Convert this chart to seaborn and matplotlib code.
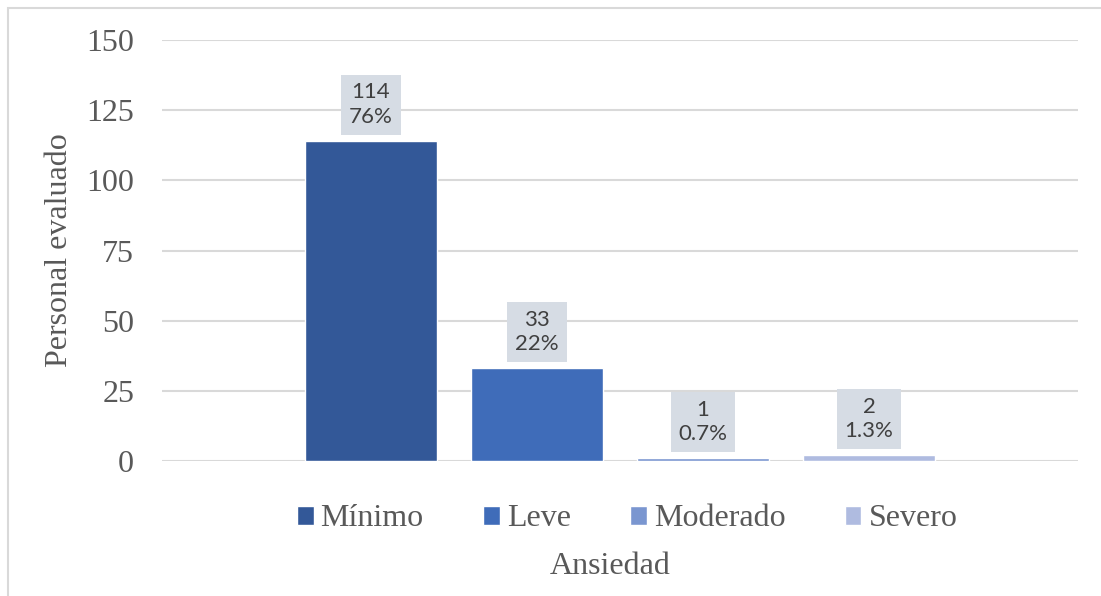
import pandas as pd
import matplotlib.pyplot as plt
import seaborn as sns
from matplotlib.patches import Rectangle

# Data
niveles = ['Mínimo', 'Leve', 'Moderado', 'Severo']
personas = [114, 33, 1, 2]
porcentajes = ['76%', '22%', '0.7%', '1.3%']
colores = ['#335898', '#3F6CB9', '#7A96D0', '#AFBBE0']

df = pd.DataFrame({'grupo': ['Ansiedad'] * 4, 'nivel': niveles, 'n': personas})

sns.set_style('white')
plt.rcParams['font.family'] = ['Liberation Serif', 'DejaVu Serif']

fig = plt.figure(figsize=(11.01, 5.96), dpi=100)
ax = fig.add_axes([162 / 1101, 1 - 461 / 596, 916 / 1101, 421 / 596])

sns.barplot(data=df, x='grupo', y='n', hue='nivel', hue_order=niveles,
            palette=colores, width=0.725, gap=0.21, saturation=1, ax=ax)

ax.set_xlim(-0.5, 0.5)
ax.set_ylim(0, 150)
ax.set_yticks(range(0, 151, 25))
ax.yaxis.grid(True, color='#D9D9D9', linewidth=1.5)
ax.set_axisbelow(True)
for s in ax.spines.values():
    s.set_visible(False)
ax.tick_params(axis='y', length=0, pad=20, labelsize=23, labelcolor='#595959')
ax.set_xticks([])
ax.set_ylabel('Personal evaluado', fontsize=23, color='#595959', labelpad=9)
ax.set_xlabel('Ansiedad', fontsize=23, color='#595959')
ax.xaxis.set_label_coords(0.489, -0.215)

# data labels
for cont, n, p in zip(ax.containers, personas, porcentajes):
    bar = cont.patches[0]
    ax.annotate(f'{n}\n{p}', (bar.get_x() + bar.get_width() / 2, bar.get_height()),
                xytext=(0, 10), textcoords='offset points', ha='center', va='bottom',
                fontsize=16, color='#404040', family=['Lato', 'DejaVu Sans'],
                linespacing=1.3,
                bbox=dict(boxstyle='square,pad=0.35', fc='#D6DCE4', ec='none'))

sns.move_legend(ax, 'center', bbox_to_anchor=(627 / 1101, 1 - 519 / 596),
                bbox_transform=fig.transFigure, ncol=4, frameon=False, title=None,
                fontsize=23, handlelength=0.53, handleheight=0.53,
                handletextpad=0.22, columnspacing=1.85, labelcolor='#595959')

# outer chart frame (cut off at right and bottom)
fig.patches.append(Rectangle((8 / 1101, -0.1), 1.2, 1 - 8 / 596 + 0.1,
                             transform=fig.transFigure, fill=False,
                             ec='#D9D9D9', lw=1.5))

fig.savefig('out.png', dpi=100)
